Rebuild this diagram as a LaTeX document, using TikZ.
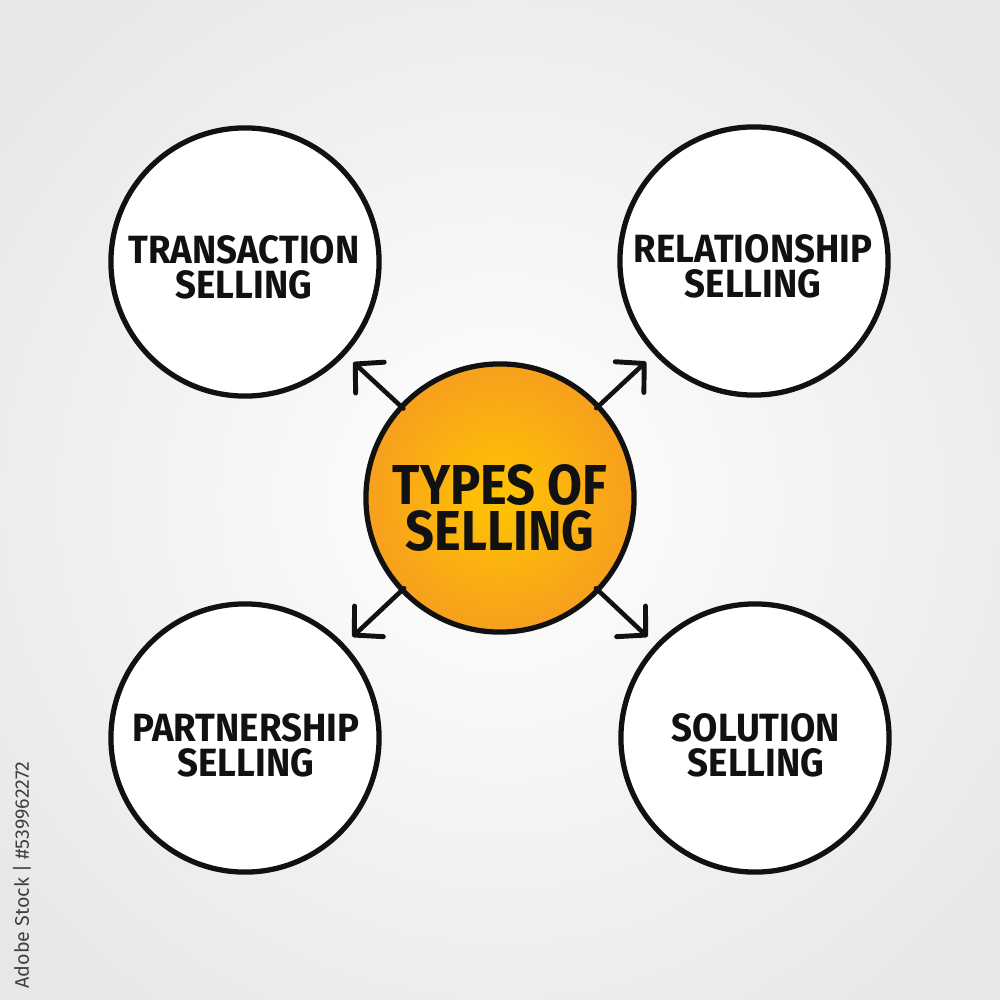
\documentclass[tikz,border=0pt]{standalone}
\usepackage{fontspec}
\setmainfont{Fira Sans}
\newfontfamily\hand[FakeStretch=0.93]{Fira Sans}
\newfontfamily\handc[FakeStretch=0.9]{Fira Sans}
\usetikzlibrary{arrows.meta}
\definecolor{bgedge}{HTML}{E6E7E7}
\definecolor{orin}{HTML}{FFC400}
\definecolor{orout}{HTML}{F7A01E}
\definecolor{ink}{HTML}{111111}
\tikzset{
  bubble/.style={circle, draw=ink, line width=1.5pt, fill=white, minimum size=2.68cm, inner sep=0pt},
  lbl/.style={align=center, inner sep=0pt, text=ink, font=\hand\bfseries\fontsize{11.2}{10}\selectfont},
  hublbl/.style={lbl, font=\handc\bfseries\fontsize{16}{13.2}\selectfont},
  arr/.style={draw=ink, line width=1.3pt, line cap=round,
    -{Straight Barb[length=2mm, width=4.2mm, line width=1.4pt, round]}, shorten >=1.1mm, shorten <=-0.5mm}
}
\begin{document}
\begin{tikzpicture}[x=0.01cm,y=-0.01cm]
  \useasboundingbox (0,0) rectangle (1000,1000);
  \shade[inner color=white, outer color=bgedge] (-150,-150) rectangle (1150,1150);
  \node[rotate=90, font=\fontsize{5.6}{6}\selectfont, text=black!75] (id) at (22,875) {Adobe Stock | \#539962272};
  \shade[inner color=orin, outer color=orout] (500,498) circle [radius=1.33cm];
  \node[bubble, fill=none] (c) at (500,498) {};
  \node[bubble] (tl) at (245,262) {};
  \node[bubble] (tr) at (754,261) {};
  \node[bubble] (bl) at (245,738) {};
  \node[bubble] (br) at (755,738) {};
  \node[hublbl] (ct) at (500,508) {TYPES OF\\SELLING};
  \node[lbl] (tlt) at (244,267) {TRANSACTION\\SELLING};
  \node[lbl] (trt) at (753,266) {RELATIONSHIP\\SELLING};
  \node[lbl] (blt) at (246,745) {PARTNERSHIP\\SELLING};
  \node[lbl] (brt) at (756,745) {SOLUTION\\SELLING};
  \draw[arr] (c) -- (tl);
  \draw[arr] (c) -- (tr);
  \draw[arr] (c) -- (bl);
  \draw[arr] (c) -- (br);
\end{tikzpicture}
\end{document}
